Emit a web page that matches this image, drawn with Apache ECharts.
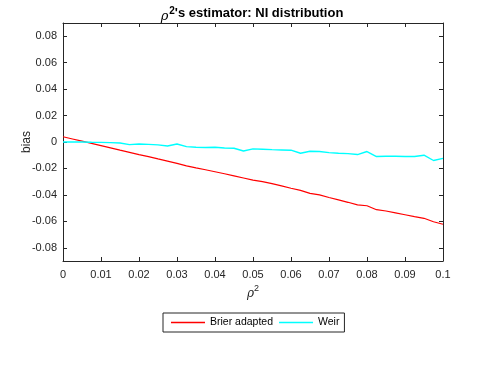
<!DOCTYPE html>
<html>
<head>
<meta charset="utf-8">
<script src="https://cdn.jsdelivr.net/npm/echarts@6/dist/echarts.min.js"></script>
<style>
  html, body { margin: 0; padding: 0; background: #fff; }
  #chart { width: 488px; height: 367px; }
</style>
</head>
<body>
<div id="chart"></div>
<script>
// rho^2 grid (x) and the two bias curves
var rho2 = [0, 0.0025, 0.005, 0.0075, 0.01, 0.0125, 0.015, 0.0175, 0.02, 0.0225,
  0.025, 0.0275, 0.03, 0.0325, 0.035, 0.0375, 0.04, 0.0425, 0.045, 0.0475,
  0.05, 0.0525, 0.055, 0.0575, 0.06, 0.0625, 0.065, 0.0675, 0.07, 0.0725,
  0.075, 0.0775, 0.08, 0.0825, 0.085, 0.0875, 0.09, 0.0925, 0.095, 0.0975, 0.1]

var brierAdapted = [0.0040, 0.0023, 0.0006, -0.0011, -0.0028, -0.0045, -0.0062, -0.0078, -0.0095, -0.0110,
  -0.0128, -0.0145, -0.0162, -0.0180, -0.0196, -0.0210, -0.0225, -0.0240, -0.0256, -0.0272,
  -0.0288, -0.0300, -0.0315, -0.0332, -0.0350, -0.0366, -0.0388, -0.0400, -0.0420, -0.0438,
  -0.0456, -0.0476, -0.0482, -0.0512, -0.0522, -0.0536, -0.0550, -0.0565, -0.0577, -0.0603, -0.0622]

var weir = [0.0000, 0.0000, 0.0000, -0.0002, -0.0003, -0.0005, -0.0008, -0.0020, -0.0015, -0.0018,
  -0.0022, -0.0030, -0.0015, -0.0035, -0.0040, -0.0042, -0.0040, -0.0045, -0.0047, -0.0068,
  -0.0052, -0.0055, -0.0058, -0.0060, -0.0062, -0.0085, -0.0070, -0.0072, -0.0080, -0.0085,
  -0.0088, -0.0095, -0.0072, -0.0110, -0.0108, -0.0108, -0.0110, -0.0110, -0.0100, -0.0140, -0.0124]

var xTicks = [0, 0.01, 0.02, 0.03, 0.04, 0.05, 0.06, 0.07, 0.08, 0.09, 0.1]
var yTicks = [-0.08, -0.06, -0.04, -0.02, 0, 0.02, 0.04, 0.06, 0.08]

function pairs(ys) {
  return rho2.map(function (x, i) { return [x, ys[i]] })
}
function fmt(v) {
  return String(+Number(v).toFixed(2))
}

var axisColor = '#262626'
var font = 'Liberation Sans'

function xAxisCfg(pos, show) {
  return {
    type: 'value', position: pos, min: 0, max: 0.1,
    axisLine: { show: true, onZero: false, lineStyle: { color: axisColor, width: 1 } },
    axisTick: { show: true, inside: true, length: 4, customValues: xTicks, lineStyle: { color: axisColor } },
    axisLabel: { show: show, customValues: xTicks, formatter: fmt, color: axisColor, fontFamily: font, fontSize: 11, margin: 8 },
    splitLine: { show: false }
  }
}
function yAxisCfg(pos, show) {
  return {
    type: 'value', position: pos, min: -0.09, max: 0.09,
    axisLine: { show: true, onZero: false, lineStyle: { color: axisColor, width: 1 } },
    axisTick: { show: true, inside: true, length: 4, customValues: yTicks, lineStyle: { color: axisColor } },
    axisLabel: { show: show, customValues: yTicks, formatter: fmt, color: axisColor, fontFamily: font, fontSize: 11, margin: 6 },
    splitLine: { show: false }
  }
}

var chart = echarts.init(document.getElementById('chart'))
var xBottom = xAxisCfg('bottom', true)
xBottom.name = '{r|ρ}{s|2}'
xBottom.nameLocation = 'middle'
xBottom.nameGap = 21
xBottom.nameMoveOverlap = false
xBottom.nameTextStyle = {
  rich: {
    r: { fontFamily: 'DejaVu Serif', fontStyle: 'italic', fontSize: 12, color: axisColor, padding: [6, 0, 0, 0] },
    s: { fontFamily: font, fontSize: 9, color: axisColor, padding: [0, 0, 4, 0] }
  }
}
var yLeft = yAxisCfg('left', true)
yLeft.name = 'bias'
yLeft.nameLocation = 'middle'
yLeft.nameGap = 30
yLeft.nameMoveOverlap = false
yLeft.nameTextStyle = { color: axisColor, fontFamily: font, fontSize: 12 }

chart.setOption({
  animation: false,
  backgroundColor: '#fff',
  title: {
    text: '{r|ρ}{s|2}{b|\'s estimator: NI distribution}',
    left: 247, top: -1, textAlign: 'center',
    textStyle: {
      rich: {
        r: { fontFamily: 'DejaVu Serif', fontStyle: 'italic', fontWeight: 'normal', fontSize: 13, color: '#000', padding: [6, 1, 0, 0] },
        s: { fontFamily: font, fontWeight: 'bold', fontSize: 10, color: '#000', padding: [0, 0, 5, 0] },
        b: { fontFamily: font, fontWeight: 'bold', fontSize: 13, color: '#000' }
      }
    }
  },
  grid: { left: 63, right: 45, top: 23, bottom: 106, containLabel: false },
  legend: {
    left: 163, top: 313,
    orient: 'horizontal',
    icon: 'rect',
    itemWidth: 34, itemHeight: 1.5, itemGap: 6,
    borderColor: axisColor, borderWidth: 1, borderRadius: 0,
    padding: [4, 5, 4, 8],
    textStyle: { color: '#000', fontFamily: font, fontSize: 10.5 },
    data: ['Brier adapted', 'Weir']
  },
  xAxis: [xBottom, xAxisCfg('top', false)],
  yAxis: [yLeft, yAxisCfg('right', false)],
  series: [
    {
      name: 'Brier adapted', type: 'line', xAxisIndex: 0, yAxisIndex: 0,
      data: pairs(brierAdapted), symbol: 'none',
      lineStyle: { color: '#ff0000', width: 1.2 }, itemStyle: { color: '#ff0000' }
    },
    {
      name: 'Weir', type: 'line', xAxisIndex: 0, yAxisIndex: 0,
      data: pairs(weir), symbol: 'none',
      lineStyle: { color: '#00ffff', width: 1.4 }, itemStyle: { color: '#00ffff' }
    }
  ]
})
</script>
</body>
</html>
